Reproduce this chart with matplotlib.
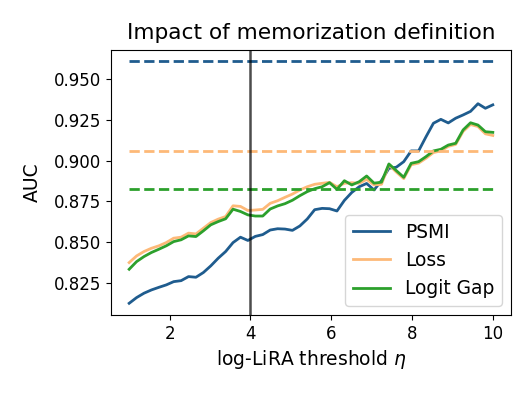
import numpy as np
import matplotlib
matplotlib.use("Agg")
import matplotlib.pyplot as plt

# log-LiRA thresholds (50 evenly spaced values from 1 to 10)
thresholds = np.linspace(1, 10, 50)

psmi_auc = [0.8124, 0.8159, 0.8186, 0.8206, 0.8222, 0.8237, 0.8257, 0.8263, 0.8288, 0.8284,
            0.8313, 0.8354, 0.8401, 0.8442, 0.8497, 0.8530, 0.8510, 0.8535, 0.8546, 0.8574,
            0.8582, 0.8580, 0.8572, 0.8599, 0.8642, 0.8699, 0.8707, 0.8705, 0.8691, 0.8756,
            0.8805, 0.8840, 0.8860, 0.8820, 0.8878, 0.8953, 0.8960, 0.8994, 0.9060, 0.9060,
            0.9147, 0.9230, 0.9254, 0.9232, 0.9261, 0.9281, 0.9303, 0.9350, 0.9322, 0.9343]

loss_auc = [0.8374, 0.8415, 0.8442, 0.8462, 0.8477, 0.8497, 0.8524, 0.8530, 0.8555, 0.8550,
            0.8585, 0.8620, 0.8641, 0.8657, 0.8723, 0.8719, 0.8694, 0.8697, 0.8701, 0.8738,
            0.8754, 0.8775, 0.8795, 0.8820, 0.8840, 0.8855, 0.8861, 0.8867, 0.8840, 0.8861,
            0.8865, 0.8861, 0.8885, 0.8851, 0.8855, 0.8975, 0.8930, 0.8890, 0.8975, 0.8985,
            0.9015, 0.9050, 0.9060, 0.9088, 0.9100, 0.9180, 0.9222, 0.9210, 0.9165, 0.9155]

logit_gap_auc = [0.8333, 0.8380, 0.8411, 0.8436, 0.8456, 0.8477, 0.8503, 0.8514, 0.8538, 0.8534,
                 0.8569, 0.8606, 0.8626, 0.8643, 0.8702, 0.8688, 0.8667, 0.8660, 0.8660, 0.8703,
                 0.8722, 0.8736, 0.8757, 0.8785, 0.8810, 0.8828, 0.8840, 0.8865, 0.8824, 0.8877,
                 0.8851, 0.8871, 0.8906, 0.8862, 0.8868, 0.8980, 0.8939, 0.8898, 0.8984, 0.8994,
                 0.9025, 0.9060, 0.9070, 0.9096, 0.9107, 0.9189, 0.9233, 0.9219, 0.9178, 0.9174]

# baseline AUC (dashed lines)
psmi_base = 0.961
loss_base = 0.906
logit_gap_base = 0.8825

chosen_threshold = 4

blue = '#1f5c8e'
orange = '#fdb978'
green = '#2ca02c'

fig = plt.figure(figsize=(5.32, 3.99), dpi=100)
ax = fig.add_axes([0.2086, 0.2105, 0.7519, 0.6642])

ax.plot(thresholds, psmi_auc, color=blue, lw=2, label='PSMI')
ax.plot(thresholds, loss_auc, color=orange, lw=2, label='Loss')
ax.plot(thresholds, logit_gap_auc, color=green, lw=2, label='Logit Gap')

ax.hlines(psmi_base, thresholds[0], thresholds[-1], colors=blue, linestyles='--', lw=2)
ax.hlines(loss_base, thresholds[0], thresholds[-1], colors=orange, linestyles='--', lw=2)
ax.hlines(logit_gap_base, thresholds[0], thresholds[-1], colors=green, linestyles='--', lw=2)

ax.axvline(chosen_threshold, color='k', alpha=0.7, lw=1.8)

ax.set_xlim(0.55, 10.45)
ax.set_ylim(0.8052, 0.968)
ax.set_xticks([2, 4, 6, 8, 10])
ax.set_yticks([0.825, 0.850, 0.875, 0.900, 0.925, 0.950])
ax.yaxis.set_major_formatter(matplotlib.ticker.FormatStrFormatter('%.3f'))
ax.tick_params(labelsize=12)

ax.set_title('Impact of memorization definition', fontsize=15.6, pad=8)
ax.set_xlabel(r'log-LiRA threshold $\eta$', fontsize=13.5)
ax.set_ylabel('AUC', fontsize=13.5, labelpad=9)
ax.legend(loc='lower right', fontsize=13.4)

fig.savefig('out.png', dpi=100)
